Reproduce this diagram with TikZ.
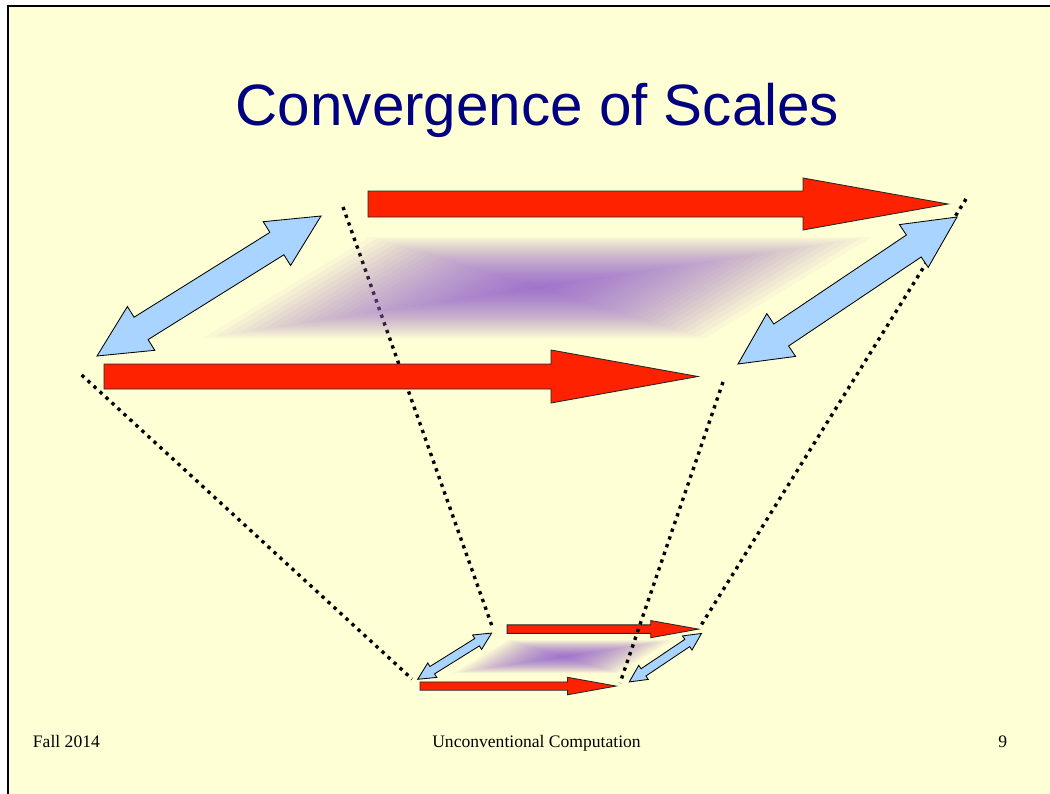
\documentclass[tikz,border=0pt]{standalone}
\usepackage{fontspec}
\setmainfont{Liberation Serif}
\setsansfont{Liberation Sans}
\usepackage{tikz}
\usetikzlibrary{positioning}

\definecolor{slidebg}{HTML}{FFFFD5}
\definecolor{titleblue}{HTML}{000080}
\definecolor{arrowred}{HTML}{FF2200}
\definecolor{arrowblue}{HTML}{A8D4FF}
\definecolor{glowpurple}{HTML}{9966CC}

\tikzset{
  pics/scaleset/.style={code={
    % shaded plane
    \foreach \i in {1,...,40}
      \fill[glowpurple, fill opacity=0.05, shift={(537.5,287.5)}, scale={(\i/40)^1.5}]
        (-334.5,50.5) -- (-167.5,-50.5) -- (334.5,-50.5) -- (167.5,50.5) -- cycle;
    % red arrows
    \draw[redarrow] (368,191) -- (803,191) -- (803,178) -- (948,204)
      -- (803,230) -- (803,217) -- (368,217) -- cycle;
    \draw[redarrow] (104,364) -- (551,364) -- (551,350) -- (698,376.5)
      -- (551,403) -- (551,389) -- (104,389) -- cycle;
    % blue arrows
    \draw[bluearrow] (97,356) -- (127.4,306.5) -- (134.1,317.2) -- (269.9,232.4)
      -- (263.2,221.7) -- (321,216) -- (290.6,265.5) -- (283.9,254.8)
      -- (148.1,339.6) -- (154.8,350.3) -- cycle;
    \draw[bluearrow] (738,364) -- (766.8,313.6) -- (773.8,324.0) -- (906.4,235.0)
      -- (899.4,224.6) -- (957,217) -- (928.2,267.4) -- (921.2,257.0)
      -- (788.6,346.0) -- (795.6,356.4) -- cycle;
  }}
}

\begin{document}
\begin{tikzpicture}[x=0.025cm, y=-0.025cm, line join=miter,
    redarrow/.style={fill=arrowred, draw=black!85, line width=0.6pt},
    bluearrow/.style={fill=arrowblue, draw=black, line width=0.6pt},
    dotline/.style={line width=2.4pt, dash pattern=on 2.4pt off 3.4pt}]
  \useasboundingbox (0,0) rectangle (1050,794);
  \fill[white] (0,0) rectangle (1050,794);
  \fill[slidebg] (8,6) rectangle (1050,794);
  \draw[line width=1.5pt] (8,794) -- (8,6) -- (1050,6);

  \node[anchor=base, text=titleblue, font=\sffamily\fontsize{41.5pt}{48pt}\selectfont]
    (title) at (537.5,126) {Convergence of Scales};

  % small copy
  \begin{scope}[shift={(385.7,561.8)}, scale=0.33]
    \pic[transform shape] {scaleset};
  \end{scope}

  % corners
  \coordinate (bl) at (81.7,375);
  \coordinate (tl) at (343,207);
  \coordinate (br) at (723,382);
  \coordinate (tr) at (966,199);
  \coordinate (sbl) at (412,679);
  \coordinate (stl) at (493,629);
  \coordinate (sbr) at (620,683);
  \coordinate (str) at (700,627);
  \draw[dotline] (bl) -- (sbl);
  \draw[dotline] (tl) -- (stl);
  \draw[dotline] (br) -- (sbr);
  \draw[dotline] (tr) -- (str);

  % large copy
  \pic {scaleset};

  \node[anchor=base west, font=\fontsize{12.5pt}{15pt}\selectfont] (term) at (28,747) {Fall 2014};
  \node[anchor=base, font=\fontsize{12.5pt}{15pt}\selectfont] (course) at (536.5,747) {Unconventional Computation};
  \node[anchor=base east, font=\fontsize{12.5pt}{15pt}\selectfont] (page) at (1012,747) {9};
\end{tikzpicture}
\end{document}
